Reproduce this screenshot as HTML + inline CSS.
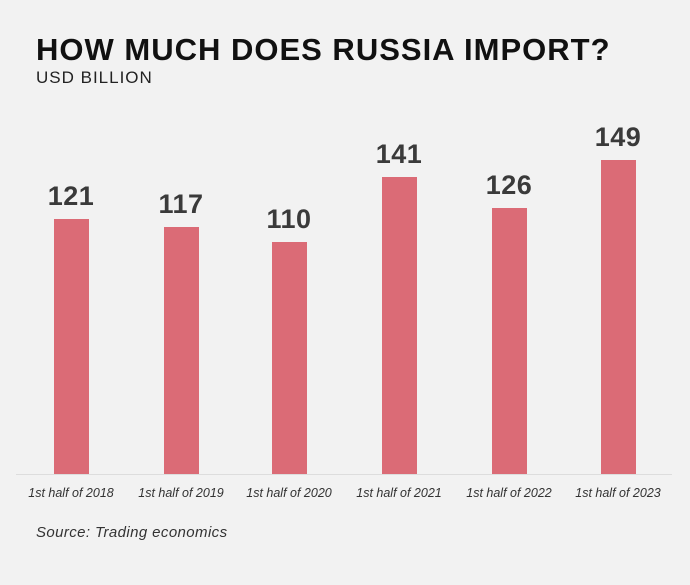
<!DOCTYPE html><html><head><style>
body{margin:0;width:690px;height:585px;background:#f2f2f2;font-family:"Liberation Sans",sans-serif;position:relative;overflow:hidden}
.t{position:absolute;left:36px;top:32px;font-size:31px;font-weight:bold;color:#111;letter-spacing:1px}
.s{position:absolute;left:36px;top:68px;font-size:17px;color:#222;letter-spacing:1px}
.b{position:absolute;width:35px;background:#db6b76;bottom:111px}
.v{position:absolute;width:100px;text-align:center;font-size:27px;font-weight:bold;color:#3a3a3a;letter-spacing:0.5px}
.x{position:absolute;top:486px;width:110px;text-align:center;font-size:12.5px;font-style:italic;color:#333}
.line{position:absolute;left:16px;right:18px;top:474px;height:1px;background:#ddd}
.src{position:absolute;left:36px;top:524px;font-size:15px;font-style:italic;color:#333;letter-spacing:0.4px}
</style></head><body>
<div class="t">HOW MUCH DOES RUSSIA IMPORT?</div>
<div class="s">USD BILLION</div>
<div class="line"></div>
<div class="b" style="left:54px;top:219px"></div><div class="v" style="left:21px;top:181px">121</div><div class="x" style="left:16px">1st half of 2018</div>
<div class="b" style="left:164px;top:227px"></div><div class="v" style="left:131px;top:189px">117</div><div class="x" style="left:126px">1st half of 2019</div>
<div class="b" style="left:272px;top:242px"></div><div class="v" style="left:239px;top:204px">110</div><div class="x" style="left:234px">1st half of 2020</div>
<div class="b" style="left:382px;top:177px"></div><div class="v" style="left:349px;top:139px">141</div><div class="x" style="left:344px">1st half of 2021</div>
<div class="b" style="left:492px;top:208px"></div><div class="v" style="left:459px;top:170px">126</div><div class="x" style="left:454px">1st half of 2022</div>
<div class="b" style="left:601px;top:160px"></div><div class="v" style="left:568px;top:122px">149</div><div class="x" style="left:563px">1st half of 2023</div>
<div class="src">Source: Trading economics</div>
</body></html>
